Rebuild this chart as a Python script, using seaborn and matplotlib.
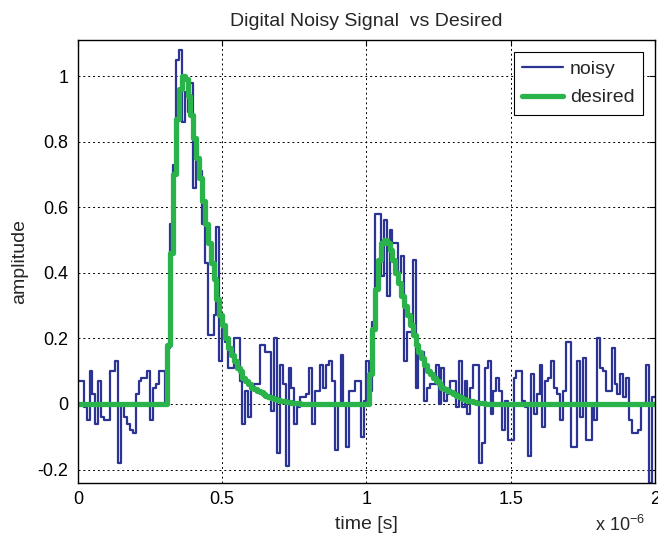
import numpy as np
import pandas as pd
import seaborn as sns
import matplotlib
matplotlib.use('Agg')
import matplotlib.pyplot as plt

# sampled signals, one value per 10 ns step (201 points, 0 .. 2 us)
noisy = [
    0.07, 0.07, -0.01, -0.05, 0.10, 0.03, -0.06, 0.07, -0.04, -0.05,
    -0.05, 0.10, 0.10, 0.13, -0.18, 0.00, -0.04, -0.06, -0.08, -0.09,
    0.03, 0.07, 0.08, 0.08, 0.10, -0.05, 0.05, 0.06, 0.10, 0.10,
    0.00, 0.17, 0.55, 0.73, 1.05, 1.08, 0.86, 0.95, 0.89, 0.98,
    0.66, 0.75, 0.71, 0.55, 0.43, 0.21, 0.21, 0.27, 0.54, 0.13,
    0.23, 0.19, 0.11, 0.11, 0.20, 0.20, 0.07, -0.06, 0.04, -0.04,
    0.05, 0.06, 0.06, 0.18, 0.18, 0.16, 0.16, -0.02, 0.20, -0.15,
    0.12, 0.06, -0.19, 0.11, 0.05, -0.06, -0.01, 0.02, 0.02, 0.03,
    0.11, -0.06, 0.04, 0.04, 0.12, 0.05, 0.12, 0.13, 0.07, -0.14,
    0.00, 0.15, 0.00, -0.13, 0.04, 0.04, 0.07, 0.07, -0.10, 0.01,
    0.13, 0.04, 0.25, 0.58, 0.58, 0.39, 0.56, 0.33, 0.53, 0.49,
    0.49, 0.40, 0.45, 0.13, 0.22, 0.22, 0.44, 0.05, 0.16, 0.16,
    0.01, 0.05, 0.06, 0.06, 0.12, 0.00, 0.11, 0.01, 0.03, 0.07,
    0.07, -0.01, 0.13, -0.01, 0.07, -0.03, 0.05, 0.12, 0.12, -0.18,
    -0.12, 0.11, 0.13, -0.03, 0.04, 0.08, 0.04, -0.08, 0.01, -0.11,
    -0.11, 0.08, 0.10, 0.10, 0.01, -0.01, -0.16, 0.09, -0.03, 0.03,
    0.12, -0.07, 0.07, 0.08, 0.13, 0.05, 0.03, -0.05, 0.04, 0.19,
    0.19, -0.13, -0.13, 0.13, -0.04, 0.14, -0.11, -0.11, 0.00, -0.05,
    0.20, 0.11, 0.10, 0.04, 0.04, 0.17, 0.06, 0.03, 0.09, 0.02,
    0.08, -0.05, -0.09, -0.09, -0.08, 0.00, 0.00, 0.12, -0.24, 0.02,
    0.02,
]

desired = [
    0, 0, 0, 0, 0, 0, 0, 0, 0, 0,
    0, 0, 0, 0, 0, 0, 0, 0, 0, 0,
    0, 0, 0, 0, 0, 0, 0, 0, 0, 0,
    0, 0.18, 0.46, 0.70, 0.87, 0.96, 1.00, 0.99, 0.94, 0.88,
    0.81, 0.75, 0.69, 0.62, 0.55, 0.49, 0.43, 0.38, 0.32, 0.27,
    0.24, 0.20, 0.17, 0.15, 0.13, 0.11, 0.10, 0.08, 0.07, 0.06,
    0.05, 0.045, 0.04, 0.035, 0.03, 0.025, 0.02, 0.018, 0.015, 0.012,
    0.01, 0.008, 0.006, 0.005, 0.004, 0.003, 0.002, 0.001, 0, 0,
    0, 0, 0, 0, 0, 0, 0, 0, 0, 0,
    0, 0, 0, 0, 0, 0, 0, 0, 0, 0,
    0, 0.09, 0.23, 0.35, 0.44, 0.49, 0.50, 0.49, 0.47, 0.44,
    0.40, 0.37, 0.33, 0.30, 0.27, 0.24, 0.21, 0.18, 0.16, 0.14,
    0.12, 0.10, 0.09, 0.08, 0.07, 0.06, 0.05, 0.045, 0.04, 0.035,
    0.03, 0.025, 0.02, 0.016, 0.013, 0.01, 0.008, 0.006, 0.004, 0.003,
    0.002, 0.001, 0, 0, 0, 0, 0, 0, 0, 0,
    0, 0, 0, 0, 0, 0, 0, 0, 0, 0,
    0, 0, 0, 0, 0, 0, 0, 0, 0, 0,
    0, 0, 0, 0, 0, 0, 0, 0, 0, 0,
    0, 0, 0, 0, 0, 0, 0, 0, 0, 0,
    0, 0, 0, 0, 0, 0, 0, 0, 0, 0,
    0,
]

dt = 1e-8
x_ticks = [0, 0.5e-6, 1e-6, 1.5e-6, 2e-6]
x_labels = ['0', '0.5', '1', '1.5', '2']
y_ticks = [-0.2, 0, 0.2, 0.4, 0.6, 0.8, 1.0]
y_labels = ['-0.2', '0', '0.2', '0.4', '0.6', '0.8', '1']

time = np.arange(len(noisy)) * dt
df = pd.DataFrame({'time': time, 'noisy': noisy, 'desired': desired})

sns.set_style('white')
plt.rcParams['font.family'] = ['Liberation Sans', 'DejaVu Sans']

fig = plt.figure(figsize=(6.58, 5.39), dpi=100)
ax = fig.add_axes([0.1185, 0.1045, 0.8769, 0.8213])

sns.lineplot(data=df, x='time', y='noisy', ax=ax, color='#2b3494',
             linewidth=1.6, drawstyle='steps-post', label='noisy')
sns.lineplot(data=df, x='time', y='desired', ax=ax, color='#2bb34b',
             linewidth=3.8, drawstyle='steps-post', label='desired')

ax.set_xlim(0, 2e-6)
ax.set_ylim(-0.24, 1.11)
ax.set_xticks(x_ticks)
ax.set_xticklabels(x_labels)
ax.set_yticks(y_ticks)
ax.set_yticklabels(y_labels)
ax.tick_params(direction='in', top=True, right=True, length=4,
               labelsize=13, colors='black')
ax.tick_params(axis='x', pad=6)
ax.tick_params(axis='y', pad=7)
ax.grid(True, color='black', linestyle=(0, (2, 3)), linewidth=0.7)
for s in ax.spines.values():
    s.set_color('black')
    s.set_linewidth(1.0)

ax.set_title('Digital Noisy Signal  vs Desired', fontsize=14, pad=10)
ax.set_xlabel('time [s]', fontsize=14, labelpad=6)
ax.set_ylabel('amplitude', fontsize=14, labelpad=7)

# MATLAB-style exponent label under the x axis
fig.text(645 / 658, (539 - 531) / 539, r'x 10$^{\mathregular{-6}}$',
         ha='right', va='baseline', fontsize=13)

leg = ax.legend(loc='upper right', frameon=True, fancybox=False,
                edgecolor='black', fontsize=14, handlelength=2.1,
                handletextpad=0.35, labelspacing=0.55, borderpad=0.45,
                borderaxespad=0.6, framealpha=1)
leg.get_frame().set_linewidth(0.8)

plt.savefig('out.png', dpi=100)
plt.close()
